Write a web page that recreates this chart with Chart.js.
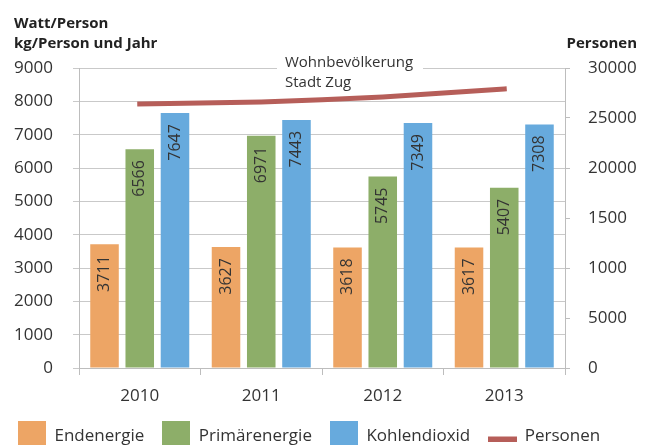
<!DOCTYPE html>
<html><head><meta charset="utf-8">
<script src="https://cdn.jsdelivr.net/npm/chart.js@4"></script>
<style>html,body{margin:0;padding:0;background:#fff;overflow:hidden}#wrap{width:654px;height:455px}</style>
</head><body><div id="wrap"><canvas id="c" width="654" height="455"></canvas></div>
<script>
const categories = ['2010', '2011', '2012', '2013'];
const endenergie = [3711, 3627, 3618, 3617];
const primaerenergie = [6566, 6971, 5745, 5407];
const kohlendioxid = [7647, 7443, 7349, 7308];
const personen = [26400, 26600, 27100, 27900];
const seriesNames = ['Endenergie', 'Primärenergie', 'Kohlendioxid', 'Personen'];
const leftTickLabels = ['0', '1000', '2000', '3000', '4000', '5000', '6000', '7000', '8000', '9000'];
const rightTickLabels = ['0', '5000', '1000', '1500', '20000', '25000', '30000'];
const leftTitle = ['Watt/Person', 'kg/Person und Jahr'];
const rightTitle = 'Personen';
const annotationLines = ['Wohnbevölkerung', 'Stadt Zug'];

const COL = { orange: '#EDA565', green: '#8DAE69', blue: '#67AADD', red: '#B65E59', text: '#333333', grid: '#c9c9c9', axis: '#bdbdbd' };
const FONT = "'Open Sans', sans-serif";
Chart.defaults.font.family = FONT;
Chart.defaults.color = COL.text;

function boxImg(color) { const c = document.createElement('canvas'); c.width = 28; c.height = 32; const g = c.getContext('2d'); g.fillStyle = color; g.fillRect(0, 0, 28, 32); return c; }
function lineImg(color) { const c = document.createElement('canvas'); c.width = 29; c.height = 10; const g = c.getContext('2d'); g.fillStyle = color; g.fillRect(0, 5, 29, 5); return c; }

const barLabels = {
  id: 'barLabels',
  afterDatasetsDraw(chart) {
    const ctx = chart.ctx;
    ctx.save();
    ctx.font = '16px ' + FONT;
    ctx.fillStyle = COL.text;
    ctx.textAlign = 'right';
    ctx.textBaseline = 'middle';
    chart.data.datasets.forEach((ds, di) => {
      if (ds.type === 'line') return;
      const meta = chart.getDatasetMeta(di);
      meta.data.forEach((el, i) => {
        ctx.save();
        ctx.translate(el.x, el.y + 11);
        ctx.rotate(-Math.PI / 2);
        ctx.fillText(String(ds.data[i]), 0, 0);
        ctx.restore();
      });
    });
    ctx.restore();
  }
};

const texts = {
  id: 'texts',
  afterDraw(chart) {
    const ctx = chart.ctx;
    const a = chart.chartArea;
    ctx.save();
    ctx.fillStyle = '#222';
    ctx.font = 'bold 15px ' + FONT;
    ctx.textAlign = 'left';
    ctx.textBaseline = 'alphabetic';
    ctx.fillText(leftTitle[0], 14, 28);
    ctx.fillText(leftTitle[1], 14, 48);
    ctx.textAlign = 'right';
    ctx.fillText(rightTitle, 637, 48);
    // annotation
    ctx.fillStyle = '#fff';
    ctx.fillRect(a.left + 198, a.top - 4, 146, 8);
    ctx.fillStyle = COL.text;
    ctx.font = '15px ' + FONT;
    ctx.textAlign = 'left';
    ctx.fillText(annotationLines[0], a.left + 206, a.top - 1);
    ctx.fillText(annotationLines[1], a.left + 206, a.top + 19);
    ctx.restore();
  }
};

const colors = [COL.orange, COL.green, COL.blue];
const barSeries = [endenergie, primaerenergie, kohlendioxid];
const datasets = barSeries.map((d, i) => ({
  type: 'bar', label: seriesNames[i], data: d, backgroundColor: colors[i], borderWidth: 0,
  yAxisID: 'y', categoryPercentage: 0.87, barPercentage: 0.81, order: 2
}));
datasets.push({
  type: 'line', label: seriesNames[3], data: personen, yAxisID: 'y2', borderColor: COL.red, backgroundColor: COL.red,
  borderWidth: 5, pointRadius: 0, tension: 0.15, order: 1, borderCapStyle: 'square'
});
const legendImgs = [boxImg(COL.orange), boxImg(COL.green), boxImg(COL.blue), lineImg(COL.red)];

new Chart(document.getElementById('c'), {
  type: 'bar',
  data: { labels: categories, datasets },
  options: {
    responsive: false, animation: false, devicePixelRatio: 1,
    layout: { padding: { top: 68, left: 0, right: 0, bottom: 0 } },
    plugins: {
      tooltip: { enabled: false },
      legend: {
        position: 'bottom', align: 'start',
        labels: {
          usePointStyle: true, pointStyleWidth: 28, padding: 18, color: COL.text,
          font: { size: 17 },
          generateLabels: (chart) => chart.data.datasets.map((ds, i) => ({
            text: ds.label, pointStyle: legendImgs[i], fillStyle: colors[i] || COL.red,
            strokeStyle: 'transparent', lineWidth: 0, hidden: false, datasetIndex: i, fontColor: COL.text
          }))
        }
      }
    },
    scales: {
      x: {
        ticks: { padding: 11, color: COL.text, font: { size: 17 } },
        grid: { drawOnChartArea: false, tickLength: 7, color: COL.axis, offset: true },
        border: { color: COL.axis },
        afterFit: s => { s.height = 42; }
      },
      y: {
        position: 'left', min: 0, max: 9000,
        ticks: { stepSize: 1000, padding: 20, color: COL.text, font: { size: 17 }, callback: (v, i) => leftTickLabels[i] },
        grid: { color: COL.grid, tickLength: 6 },
        border: { color: COL.axis },
        afterFit: s => { s.width = 79; }
      },
      y2: {
        position: 'right', min: 0, max: 30000,
        ticks: { stepSize: 5000, padding: 18, color: COL.text, font: { size: 17 }, callback: (v, i) => rightTickLabels[i] },
        grid: { drawOnChartArea: false, tickLength: 5, color: COL.axis },
        border: { color: COL.axis },
        afterFit: s => { s.width = 89; }
      }
    }
  },
  plugins: [barLabels, texts]
});
</script></body></html>
